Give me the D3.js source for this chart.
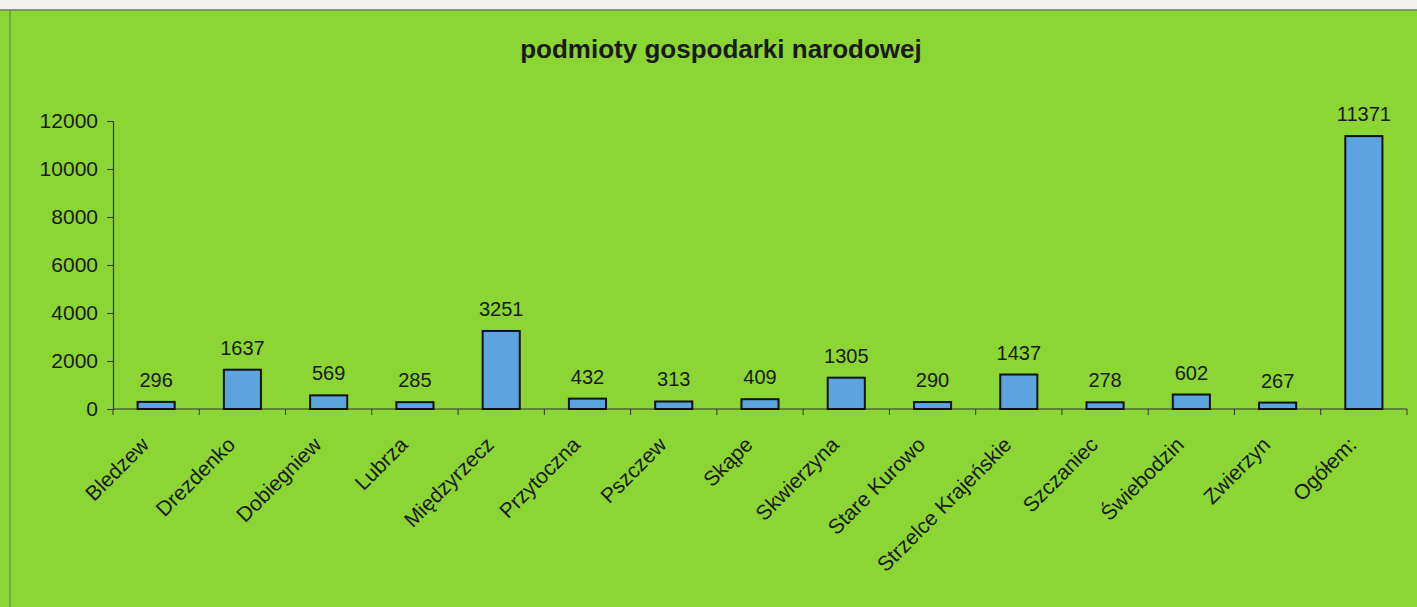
<!DOCTYPE html>
<html>
<head>
<meta charset="utf-8">
<script src="https://cdn.jsdelivr.net/npm/d3@7"></script>
<style>
  body { margin: 0; background: #f4f4f0; }
  svg { display: block; }
  text { font-family: "Liberation Sans", Arial, sans-serif; fill: #1a1a1a; }
</style>
</head>
<body>
<svg id="chart"></svg>
<script>
const gminy = ["Bledzew", "Drezdenko", "Dobiegniew", "Lubrza", "Międzyrzecz", "Przytoczna", "Pszczew", "Skąpe", "Skwierzyna", "Stare Kurowo", "Strzelce Krajeńskie", "Szczaniec", "Świebodzin", "Zwierzyn", "Ogółem:"];
const podmioty = [296, 1637, 569, 285, 3251, 432, 313, 409, 1305, 290, 1437, 278, 602, 267, 11371];
const yTicks = [0, 2000, 4000, 6000, 8000, 10000, 12000];
const title = "podmioty gospodarki narodowej";

const size = { width: 1417, height: 607 };
const plot = { left: 113, right: 1407, top: 121, bottom: 409 };

const svg = d3.select("#chart").attr("width", size.width).attr("height", size.height);

// tło wykresu (zielone) z krawędzią skanu u góry i z lewej
svg.append("rect").attr("x", 0).attr("y", 0).attr("width", size.width).attr("height", size.height).attr("fill", "#f2f2ee");
svg.append("rect").attr("x", 0).attr("y", 10).attr("width", size.width).attr("height", size.height - 10).attr("fill", "#8bd534");
svg.append("line").attr("x1", 0).attr("x2", size.width).attr("y1", 10).attr("y2", 10).attr("stroke", "#6a7a60").attr("stroke-width", 1.5);
svg.append("line").attr("x1", 10).attr("x2", 10).attr("y1", 10).attr("y2", size.height).attr("stroke", "#5d7a40").attr("stroke-width", 1);

svg.append("text").attr("x", 721).attr("y", 58).attr("text-anchor", "middle")
  .style("font-size", "26px").style("font-weight", "bold").text(title);

const xScale = d3.scaleBand().domain(gminy).range([plot.left, plot.right]).paddingInner(0.57).paddingOuter(0.285);
const xBounds = d3.scaleBand().domain(gminy).range([plot.left, plot.right]);
const yScale = d3.scaleLinear().domain([0, 12000]).range([plot.bottom, plot.top]);

const yAxis = d3.axisLeft(yScale).tickValues(yTicks).tickSize(6).tickPadding(9).tickFormat(d3.format("d"));
const gy = svg.append("g").attr("transform", `translate(${plot.left},0)`).call(yAxis);
gy.select(".domain").attr("stroke", "#333").attr("stroke-width", 1.2);
gy.selectAll(".tick line").attr("stroke", "#333");
gy.selectAll(".tick text").style("font-size", "21px").style("font-family", "Liberation Sans, Arial, sans-serif").attr("fill", "#1a1a1a");

// oś X: kreski na granicach kategorii
const gx = svg.append("g").attr("transform", `translate(0,${plot.bottom})`);
gx.append("line").attr("x1", plot.left).attr("x2", plot.right).attr("stroke", "#333").attr("stroke-width", 1.2);
gx.selectAll("line.tk").data(gminy.concat(["end"])).enter().append("line").attr("class", "tk")
  .attr("x1", (d, i) => i < gminy.length ? xBounds(d) : plot.right)
  .attr("x2", (d, i) => i < gminy.length ? xBounds(d) : plot.right)
  .attr("y1", 0).attr("y2", 6).attr("stroke", "#333");

svg.selectAll("rect.bar").data(podmioty).enter().append("rect").attr("class", "bar")
  .attr("x", (d, i) => xScale(gminy[i]))
  .attr("y", d => yScale(d))
  .attr("width", xScale.bandwidth())
  .attr("height", d => plot.bottom - yScale(d))
  .attr("fill", "#5ba4df").attr("stroke", "#111").attr("stroke-width", 2);

svg.selectAll("text.val").data(podmioty).enter().append("text").attr("class", "val")
  .attr("x", (d, i) => xScale(gminy[i]) + xScale.bandwidth() / 2)
  .attr("y", d => yScale(d) - 15)
  .attr("text-anchor", "middle").style("font-size", "20px")
  .text(d => d);

svg.selectAll("text.lab").data(gminy).enter().append("text").attr("class", "lab")
  .attr("transform", d => `translate(${xScale(d) + xScale.bandwidth() / 2 - 6},${plot.bottom + 37}) rotate(-45)`)
  .attr("text-anchor", "end").style("font-size", "21px")
  .text(d => d);
</script>
</body>
</html>
